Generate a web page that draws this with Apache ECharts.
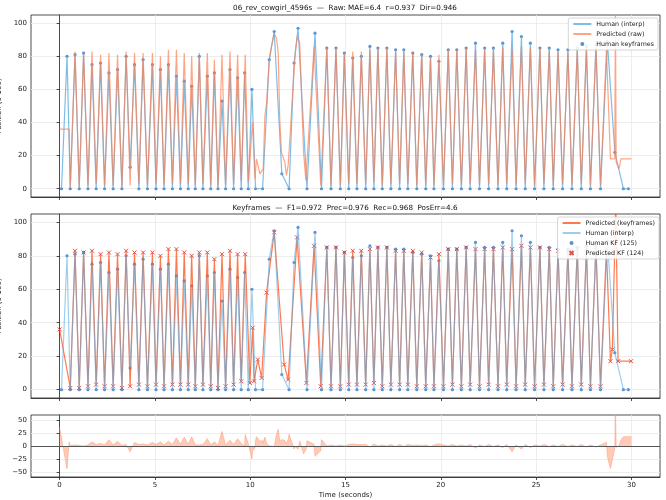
<!DOCTYPE html>
<html>
<head>
<meta charset="utf-8">
<script src="https://cdn.jsdelivr.net/npm/echarts@6/dist/echarts.min.js"></script>
<style>
  html, body { margin: 0; padding: 0; background: #fff; }
  #chart { width: 666px; height: 500px; }
</style>
</head>
<body>
<div id="chart"></div>
<script>
// human keyframes (time in s, position 0-100)
var humanT = [0.1,0.39,0.56,0.81,1.03,1.26,1.49,1.70,1.92,2.15,2.36,2.59,2.81,3.04,3.27,3.49,3.70,3.93,4.16,4.38,4.61,
  4.87,5.06,5.29,5.48,5.71,5.92,6.13,6.34,6.54,6.75,6.93,7.12,7.33,7.52,7.75,7.93,8.12,8.31,8.52,8.71,8.94,9.13,9.34,9.53,
  9.71,9.90,10.09,10.28,10.65,11.0,11.26,11.66,12.04,12.3,12.51,12.98,13.40,13.74,14.02,14.24,14.50,
  14.73,14.94,15.17,15.38,15.60,15.83,16.06,16.28,16.49,16.70,16.93,17.17,17.38,17.63,17.84,18.06,18.27,18.53,18.74,19.0,19.21,19.46,19.64,
  19.9,20.14,20.39,20.61,20.84,21.08,21.33,21.54,21.82,22.03,22.3,22.51,22.76,23.0,23.25,23.46,23.74,23.95,24.23,24.43,
  24.7,24.92,25.2,25.41,25.69,25.9,26.15,26.39,26.67,26.88,27.16,27.37,27.64,27.85,28.14,28.38,28.74,29.13,29.58,29.84];
var humanV = [0,80,0,81,0,82,0,75,0,76,0,70,0,72,0,80,13,75,0,78,0,
  75,0,72,0,75,0,68,0,65,0,62,0,80,0,68,0,70,0,53,0,72,0,67,0,
  70,0,60,0,0,78,95,9,0,76,97,0,94,0,85,0,85,
  0,82,0,79,0,80,0,86,0,85,0,85,0,84,0,84,0,82,0,81,0,80,0,
  77,0,84,0,84,0,85,0,88,0,85,0,85,0,88,0,95,0,92,0,
  88,0,85,0,85,0,84,0,84,0,85,0,86,0,87,0,89,22,0,0];

// predicted keyframes
var predT = [0,0.56,0.81,1.03,1.26,1.49,1.70,1.92,2.15,2.36,2.59,2.81,3.04,3.27,3.49,3.70,3.93,4.16,4.38,4.61,
  4.87,5.06,5.29,5.48,5.71,5.92,6.13,6.34,6.54,6.75,6.93,7.12,7.33,7.52,7.75,7.93,8.12,8.31,8.52,8.71,8.94,9.13,9.34,9.53,
  9.74,9.98,10.13,10.2,10.4,10.6,10.86,11.26,11.78,11.99,12.46,12.95,13.35,13.70,14.02,14.24,14.50,
  14.73,14.94,15.17,15.38,15.60,15.83,16.06,16.28,16.49,16.70,16.93,17.17,17.38,17.63,17.84,18.06,18.27,18.53,18.74,19.0,19.21,19.46,19.64,
  19.9,20.14,20.39,20.61,20.84,21.08,21.33,21.54,21.82,22.03,22.3,22.51,22.76,23.0,23.25,23.46,23.74,23.95,24.23,24.43,
  24.7,24.92,25.2,25.41,25.69,25.9,26.15,26.39,26.67,26.88,27.16,27.37,27.64,27.85,28.14,28.38,28.69,
  28.9,29.0,29.18,29.3,29.98];
var predV = [36,1,83,1,82,2,83,3,81,2,82,2,81,1,83,2,82,3,82,2,
  82,3,80,2,84,3,84,3,82,3,80,2,82,3,82,2,78,1,81,2,83,3,81,5,
  81,4,37,5,18,7,58,94,15,6,91,4,86,2,85,2,85,
  2,82,3,83,3,83,3,84,4,85,2,85,3,83,3,83,3,83,2,82,2,79,2,
  81,2,84,3,84,2,85,3,84,2,84,3,84,2,85,3,84,2,86,3,
  85,2,85,3,84,2,83,3,83,2,84,3,84,2,85,2,84,
  17,24,112,17,17];

// raw predictor output where it differs from its keyframes
var rawT = [0.5,
  9.9,10.12,10.25,10.33,10.42,10.51,10.6,10.68,10.77,10.86,11.0,11.12,11.26,11.38,11.47,11.55,11.64,11.82,11.9,11.99,
  12.08,12.25,12.37,12.47,12.6,12.7,12.8,12.92,
  28.9,29.0,29.13,29.16,29.2,29.35,29.45,30.0];
var rawV = [36,
  4,40,6,18,19,9,8,12,44,52,78,86,94,91,82,42,22,16,8,14,
  30,62,82,92,88,55,22,5,
  18,18,18,112,16,12,18,18];
var rawRanges = [[9.8, 12.94], [28.8, 30.5]];

var xTicks = [0, 5, 10, 15, 20, 25, 30];
var posTicks = [0, 20, 40, 60, 80, 100];
var errTicks = [-50, -25, 0, 25, 50];

function pairs(ts, vs) {
  return ts.map(function (t, i) { return [t, vs[i]]; });
}

// raw trace = keyframes outside the ranges + raw points
var rawPts = pairs(predT, predV).filter(function (p) {
  return !rawRanges.some(function (r) { return p[0] > r[0] && p[0] < r[1]; });
}).concat(pairs(rawT, rawV));
rawPts.sort(function (a, b) { return a[0] - b[0]; });

function interp(pts, t) {
  if (t <= pts[0][0]) return pts[0][1];
  var n = pts.length;
  if (t >= pts[n - 1][0]) return pts[n - 1][1];
  for (var i = 1; i < n; i++) {
    if (t <= pts[i][0]) {
      var a = pts[i - 1], b = pts[i];
      if (b[0] === a[0]) return b[1];
      return a[1] + (b[1] - a[1]) * (t - a[0]) / (b[0] - a[0]);
    }
  }
}

var humanPts = pairs(humanT, humanV);
// error = raw prediction - human interp
var errT = [0, 30].concat(humanT, rawPts.map(function (p) { return p[0]; }))
  .filter(function (t) { return t >= 0 && t <= 30; });
errT.sort(function (a, b) { return a - b; });
errT = errT.filter(function (t, i) { return i === 0 || t !== errT[i - 1]; });
var errPts = errT.map(function (t) {
  return [t, +(interp(rawPts, t) - interp(humanPts, t)).toFixed(2)];
});

var font = 'DejaVu Sans';
var axisColor = '#222';
var gridLine = { show: true, lineStyle: { color: '#e8e8e8', width: 0.8 } };

function xAxis(i, showLabel) {
  return {
    type: 'value', gridIndex: i, min: -1.5, max: 31.5,
    axisLine: { show: true, onZero: false, lineStyle: { color: axisColor, width: 0.8 } },
    axisTick: { customValues: xTicks, length: 3, lineStyle: { color: axisColor, width: 0.8 } },
    axisLabel: { show: showLabel, customValues: xTicks, fontSize: 7, color: axisColor, margin: 5, fontFamily: font },
    splitLine: gridLine,
    name: showLabel ? 'Time (seconds)' : '',
    nameLocation: 'middle', nameGap: 15,
    nameTextStyle: { fontSize: 7, color: axisColor, fontFamily: font }
  };
}
function yAxis(i, min, max, ticks, name, gap) {
  return {
    type: 'value', gridIndex: i, min: min, max: max,
    axisLine: { show: true, lineStyle: { color: axisColor, width: 0.8 } },
    axisTick: { customValues: ticks, length: 3, lineStyle: { color: axisColor, width: 0.8 } },
    axisLabel: {
      customValues: ticks, fontSize: 7, color: axisColor, margin: 4, fontFamily: font,
      formatter: function (v) { return v < 0 ? '\u2212' + (-v) : '' + v; }
    },
    splitLine: gridLine,
    name: name, nameLocation: 'middle', nameGap: gap,
    nameTextStyle: { fontSize: 7, color: axisColor, fontFamily: font }
  };
}

var blue = '#5dade2', blueDot = '#2f77c8', coral = '#ff7f50', orange = '#ff5722', red = '#d62728';
var legendBase = {
  orient: 'vertical', itemWidth: 18, itemHeight: 4, itemGap: 4,
  backgroundColor: 'rgba(255,255,255,0.85)', borderColor: '#cccccc', borderWidth: 0.8, borderRadius: 2,
  padding: [3, 4, 3, 4],
  textStyle: { fontSize: 6.3, color: '#222', fontFamily: font }
};
var noDot = { opacity: 0 };

function gridBox(top, height) {
  return { left: 31, top: top, width: 629, height: height, show: true, borderColor: axisColor, borderWidth: 0.8,
    containLabel: false, outerBoundsMode: 'none' };
}
function titleText(txt, y) {
  return { type: 'text', x: 345, y: y, z: 10,
    style: { text: txt, fontSize: 7.2, fill: '#111', fontFamily: font, align: 'center', verticalAlign: 'middle' } };
}

var chart = echarts.init(document.getElementById('chart'), null, { renderer: 'canvas' });
chart.setOption({
  animation: false,
  backgroundColor: '#fff',
  textStyle: { fontFamily: font },
  graphic: [
    titleText('06_rev_cowgirl_4596s  \u2014  Raw: MAE=6.4  r=0.937  Dir=0.946', 8),
    titleText('Keyframes  \u2014  F1=0.972  Prec=0.976  Rec=0.968  PosErr=4.6', 208)
  ],
  legend: [
    Object.assign({}, legendBase, { right: 8, top: 18, data: [
      { name: 'Human (interp)', itemStyle: noDot },
      { name: 'Predicted (raw)', itemStyle: noDot },
      'Human keyframes'] }),
    Object.assign({}, legendBase, { right: 7, top: 217, data: [
      { name: 'Predicted (keyframes)', itemStyle: noDot },
      { name: 'Human (interp) ', itemStyle: noDot },
      'Human KF (125)', 'Predicted KF (124)'] })
  ],
  grid: [gridBox(15, 182), gridBox(214, 184), gridBox(415, 62)],
  xAxis: [xAxis(0, false), xAxis(1, false), xAxis(2, true)],
  yAxis: [
    yAxis(0, -5, 105, posTicks, 'Position (0-100)', 21),
    yAxis(1, -5, 105, posTicks, 'Position (0-100)', 21),
    yAxis(2, -60, 60, errTicks, 'Error', 21)
  ],
  series: [
    { name: 'Human (interp)', type: 'line', xAxisIndex: 0, yAxisIndex: 0, data: humanPts, symbol: 'none',
      lineStyle: { color: blue, width: 1.2, opacity: 0.8 }, itemStyle: { color: blue } },
    { name: 'Predicted (raw)', type: 'line', xAxisIndex: 0, yAxisIndex: 0, data: rawPts, symbol: 'none',
      lineStyle: { color: coral, width: 1.2, opacity: 0.7 }, itemStyle: { color: coral } },
    { name: 'Human keyframes', type: 'scatter', xAxisIndex: 0, yAxisIndex: 0, data: humanPts, symbolSize: 3.2,
      itemStyle: { color: blueDot } },

    { name: 'Predicted (keyframes)', type: 'line', xAxisIndex: 1, yAxisIndex: 1, data: pairs(predT, predV), symbol: 'none',
      lineStyle: { color: orange, width: 1.2, opacity: 0.8 }, itemStyle: { color: orange } },
    { name: 'Human (interp) ', type: 'line', xAxisIndex: 1, yAxisIndex: 1, data: humanPts, symbol: 'none',
      lineStyle: { color: blue, width: 1.2, opacity: 0.6 }, itemStyle: { color: blue } },
    { name: 'Human KF (125)', type: 'scatter', xAxisIndex: 1, yAxisIndex: 1, data: humanPts, symbolSize: 3.2,
      itemStyle: { color: blueDot } },
    { name: 'Predicted KF (124)', type: 'scatter', xAxisIndex: 1, yAxisIndex: 1, data: pairs(predT, predV),
      symbol: 'path://M0,0L10,10M10,0L0,10', symbolSize: 4,
      itemStyle: { color: 'rgba(0,0,0,0)', borderColor: red, borderWidth: 1 } },

    { name: 'Error', type: 'line', xAxisIndex: 2, yAxisIndex: 2, data: errPts, symbol: 'none',
      lineStyle: { color: '#ff9a7a', width: 0.6, opacity: 0.9 },
      areaStyle: { color: '#ffa07a', opacity: 0.55, origin: 0 },
      markLine: { silent: true, symbol: 'none', label: { show: false },
        lineStyle: { color: '#555', width: 1, type: 'solid' }, data: [{ yAxis: 0 }] } }
  ]
});
</script>
</body>
</html>
